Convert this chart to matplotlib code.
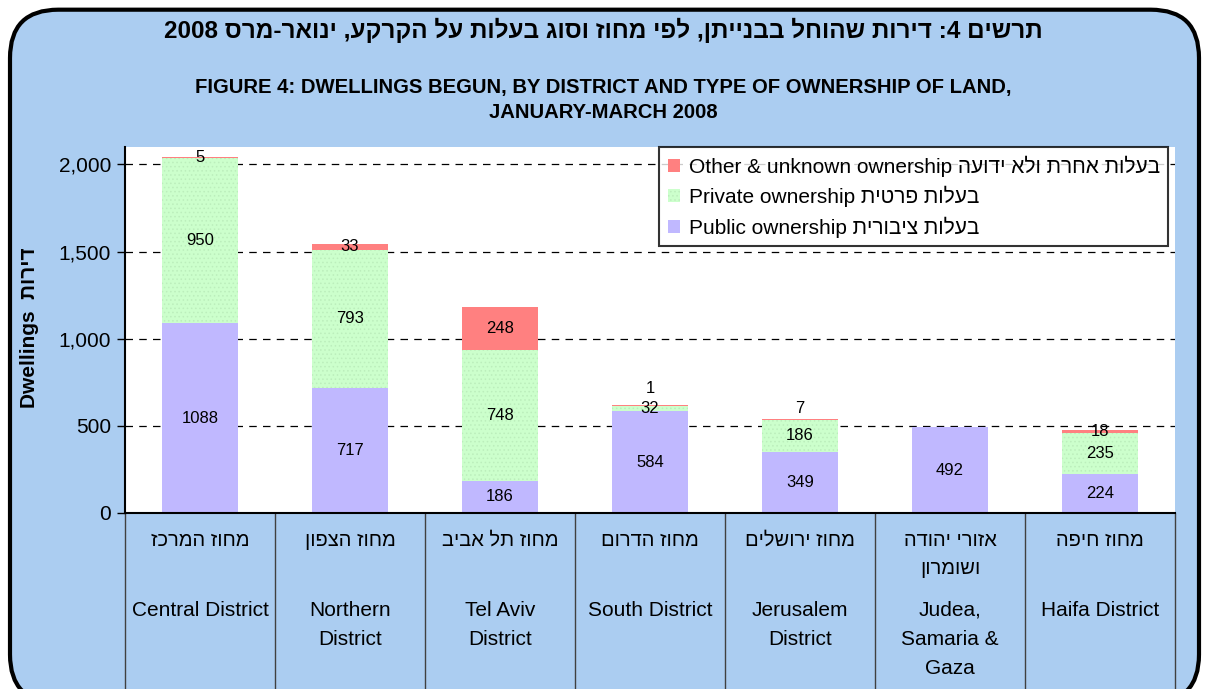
import re
import matplotlib
matplotlib.use('Agg')
import matplotlib.pyplot as plt
from matplotlib.patches import FancyBboxPatch
from matplotlib.transforms import blended_transform_factory, offset_copy

plt.rcParams['font.family'] = ['Liberation Sans', 'DejaVu Sans']
plt.rcParams['hatch.linewidth'] = 0.6


def rtl(s):
    # matplotlib has no bidi: lay out Hebrew lines in visual order
    out = []
    for line in s.split('\n'):
        r = line[::-1]
        out.append(re.sub(r'[0-9A-Za-z]+', lambda m: m.group(0)[::-1], r))
    return '\n'.join(out)


districts_he = ['מחוז המרכז', 'מחוז הצפון', 'מחוז תל אביב', 'מחוז הדרום',
                'מחוז ירושלים', 'אזורי יהודה\nושומרון', 'מחוז חיפה']
districts_en = ['Central District', 'Northern\nDistrict', 'Tel Aviv\nDistrict',
                'South District', 'Jerusalem\nDistrict', 'Judea,\nSamaria &\nGaza',
                'Haifa District']
public = [1088, 717, 186, 584, 349, 492, 224]
private = [950, 793, 748, 32, 186, 0, 235]
other = [5, 33, 248, 1, 7, 0, 18]

series_names = ['Public ownership ' + rtl('בעלות ציבורית'),
                'Private ownership ' + rtl('בעלות פרטית'),
                'Other & unknown ownership ' + rtl('בעלות אחרת ולא ידועה')]
colors = ['#C0B8FF', '#CCFFCC', '#FF8080']
hatches = [None, '....', None]

bg = '#ABCDF1'
W, H = 1206, 689
fig = plt.figure(figsize=(W / 100, H / 100), dpi=100, facecolor='white')

frame = FancyBboxPatch((10 / W, -0.02), (W - 17) / W, 1 - 9 / H + 0.02 - 0.001,
                       boxstyle='round,pad=0,rounding_size=0.04',
                       transform=fig.transFigure, facecolor=bg, edgecolor='black',
                       linewidth=3, mutation_aspect=W / H, zorder=-5)
fig.patches.append(frame)

fig.text(0.5, 1 - 30 / H, rtl('תרשים 4: דירות שהוחל בבנייתן, לפי מחוז וסוג בעלות על הקרקע, ינואר-מרס 2008'),
         ha='center', va='center', fontsize=17.5, fontweight='bold')
fig.text(0.5, 1 - 87 / H, 'FIGURE 4: DWELLINGS BEGUN, BY DISTRICT AND TYPE OF OWNERSHIP OF LAND,',
         ha='center', va='center', fontsize=14.6, fontweight='bold')
fig.text(0.5, 1 - 113 / H, 'JANUARY-MARCH 2008',
         ha='center', va='center', fontsize=14.6, fontweight='bold')

ax = fig.add_axes([125 / W, 1 - 513 / H, 1050 / W, 366 / H])
ax.set_facecolor('white')

x = list(range(len(public)))
bottom = [0] * len(x)
nudge = {(3, 2): 12, (4, 2): 8}  # small labels pushed up by Excel
for k, vals in enumerate([public, private, other]):
    ax.bar(x, vals, 0.51, bottom=bottom, color=colors[k], label=series_names[k],
           zorder=2, linewidth=0, hatch=hatches[k],
           edgecolor='#BCEEBC' if hatches[k] else colors[k])
    for i, v in enumerate(vals):
        if v > 0:
            tr = offset_copy(ax.transData, fig=fig, x=0, y=nudge.get((i, k), 0), units='points')
            ax.text(i, bottom[i] + v / 2, str(v), transform=tr, ha='center', va='center',
                    fontsize=12, zorder=4)
    bottom = [b + v for b, v in zip(bottom, vals)]

ax.set_xlim(-0.5, len(x) - 0.5)
ax.set_ylim(0, 2100)
ax.set_yticks([0, 500, 1000, 1500, 2000])
ax.set_yticklabels([f'{t:,}' for t in [0, 500, 1000, 1500, 2000]], fontsize=15)
ax.tick_params(axis='y', length=6, width=1, direction='out', pad=4)
ax.grid(axis='y', color='black', linestyle=(0, (6, 5)), linewidth=0.9, zorder=1)

ax.set_xticks([])
ax.set_xticks([i - 0.5 for i in range(len(x) + 1)], minor=True)
ax.tick_params(axis='x', which='minor', length=180 * 0.72, width=1, color='#404040',
               direction='out', labelbottom=False)

for s in ['top', 'right']:
    ax.spines[s].set_visible(False)
ax.spines['left'].set_linewidth(1.5)
ax.spines['bottom'].set_linewidth(1.5)

tb = blended_transform_factory(ax.transData, ax.transAxes)
for i in x:
    ax.text(i, -18 / 366, rtl(districts_he[i]), transform=tb, ha='center', va='top',
            fontsize=14.5, linespacing=1.6)
    ax.text(i, -88 / 366, districts_en[i], transform=tb, ha='center', va='top',
            fontsize=15, linespacing=1.68)

fig.text(30 / W, 1 - 328 / H, 'Dwellings  ' + rtl('דירות'), rotation=90,
         ha='center', va='center', fontsize=15, fontweight='bold')

h, l = ax.get_legend_handles_labels()
leg = ax.legend(h[::-1], l[::-1], loc='upper right',
                bbox_to_anchor=(1168 / W, 1 - 147 / H), bbox_transform=fig.transFigure,
                fontsize=15, frameon=True, fancybox=False, edgecolor='black',
                handlelength=0.6, handleheight=0.6, handletextpad=0.4,
                labelspacing=0.45, borderpad=0.4, borderaxespad=0)
leg.get_frame().set_linewidth(1.5)
leg.set_zorder(5)

fig.savefig('out.png', dpi=100, facecolor='white')
